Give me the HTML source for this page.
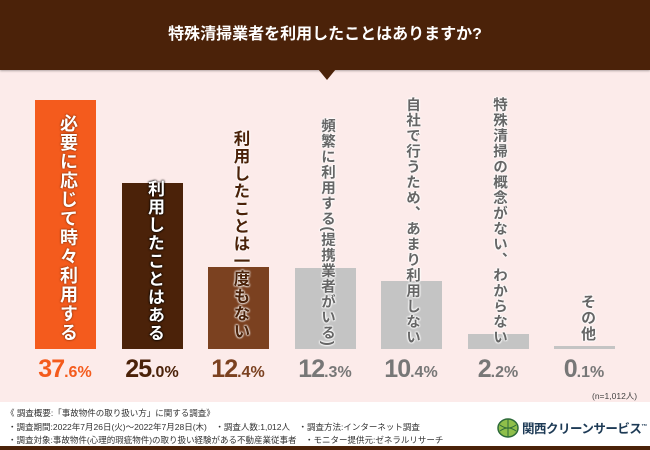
<!DOCTYPE html>
<html><head><meta charset="utf-8"><style>
*{margin:0;padding:0;box-sizing:border-box}
body{width:650px;height:450px;overflow:hidden;background:#fcebea;font-family:"Liberation Sans","Noto Sans CJK JP",sans-serif;position:relative}
.hdr{position:absolute;left:0;top:0;width:650px;height:70px;background:#4b2209;color:#fff;font-weight:bold;font-size:16px;text-align:center;line-height:70px;box-shadow:0 1px 2px rgba(0,0,0,.3)}
.tri{position:absolute;left:318px;top:69px;width:0;height:0;border-left:9px solid transparent;border-right:9px solid transparent;border-top:11px solid #4b2209}
.bar{position:absolute;bottom:101px;width:61px}
.lbl{position:absolute;writing-mode:vertical-rl;font-weight:bold;white-space:nowrap;letter-spacing:1px}
.pct{position:absolute;top:355px;width:90px;text-align:center;font-weight:bold;font-size:25px;letter-spacing:-1px}
.pct small{font-size:16px;letter-spacing:0}
.foot{position:absolute;left:0;top:402px;width:650px;height:45px;background:#fff;font-size:8.5px;color:#333}
.foot div{position:absolute;white-space:nowrap}
.line{position:absolute;left:0;top:446px;width:650px;height:4px;background:#4b2209}
.g{color:#666;text-shadow:0 0 2px #fff,0 0 2px #fff,0 0 2px #fff,0 0 2px #fff}
</style></head><body>
<div class="hdr">特殊清掃業者を利用したことはありますか?</div>
<div class="tri"></div>

<div class="bar" style="left:35px;top:100px;background:#f45b1d"></div>
<div class="bar" style="left:122px;top:183px;background:#4b2209"></div>
<div class="bar" style="left:208px;top:267px;background:#7b4120"></div>
<div class="bar" style="left:295px;top:268px;background:#c4c4c4"></div>
<div class="bar" style="left:381px;top:281px;background:#c4c4c4"></div>
<div class="bar" style="left:468px;top:334px;background:#c4c4c4"></div>
<div class="bar" style="left:554px;top:346px;background:#c4c4c4"></div>

<div class="lbl" style="left:55px;top:114px;font-size:18px;color:#fff;text-shadow:0 0 2px #5a2000">必要に応じて時々利用する</div>
<div class="lbl" style="left:142px;top:180px;font-size:17px;color:#fff;text-shadow:0 0 2px #000,0 0 2px #000">利用したことはある</div>
<div class="lbl" style="left:228px;top:130px;font-size:16.5px;color:#4b2209;text-shadow:0 0 2px #fff,0 0 2px #fff,0 0 2px #fff">利用したことは一度もない</div>
<div class="lbl g" style="left:317px;top:118px;font-size:14.5px">頻繁に利用する(提携業者がいる)</div>
<div class="lbl g" style="left:402px;top:97px;font-size:14.5px">自社で行うため、あまり利用しない</div>
<div class="lbl g" style="left:489px;top:97px;font-size:14.5px">特殊清掃の概念がない、わからない</div>
<div class="lbl g" style="left:577px;top:294px;font-size:15px">その他</div>

<div class="pct" style="left:20px;color:#f45b1d">37<small>.6%</small></div>
<div class="pct" style="left:107px;color:#4b2209">25<small>.0%</small></div>
<div class="pct" style="left:193px;color:#7b4120">12<small>.4%</small></div>
<div class="pct" style="left:280px;color:#777">12<small>.3%</small></div>
<div class="pct" style="left:366px;color:#777">10<small>.4%</small></div>
<div class="pct" style="left:453px;color:#777">2<small>.2%</small></div>
<div class="pct" style="left:539px;color:#777">0<small>.1%</small></div>
<div style="position:absolute;left:592px;top:390px;font-size:8.5px;color:#444">(n=1,012人)</div>

<div class="foot">
<div style="left:6px;top:5px">《 調査概要:「事故物件の取り扱い方」に関する調査》</div>
<div style="left:8px;top:19px">・調査期間:2022年7月26日(火)～2022年7月28日(木)　・調査人数:1,012人　・調査方法:インターネット調査</div>
<div style="left:8px;top:32px">・調査対象:事故物件(心理的瑕疵物件)の取り扱い経験がある不動産業従事者　・モニター提供元:ゼネラルリサーチ</div>
<svg style="position:absolute;left:496px;top:15px" width="24" height="22" viewBox="0 0 24 22"><ellipse cx="12" cy="11" rx="10" ry="9" fill="#8fbf4a" stroke="#2e6b3a" stroke-width="1.5"/><path d="M4 8 Q12 14 20 8 M4 14 Q12 8 20 14 M12 2 V20" stroke="#2e6b3a" fill="none"/></svg>
<div style="left:522px;top:16px;font-size:12.5px;font-weight:bold;color:#1d3a55;letter-spacing:-0.5px">関西クリーンサービス<sup style="font-size:6px">™</sup></div>
</div>
<div class="line"></div>
</body></html>
